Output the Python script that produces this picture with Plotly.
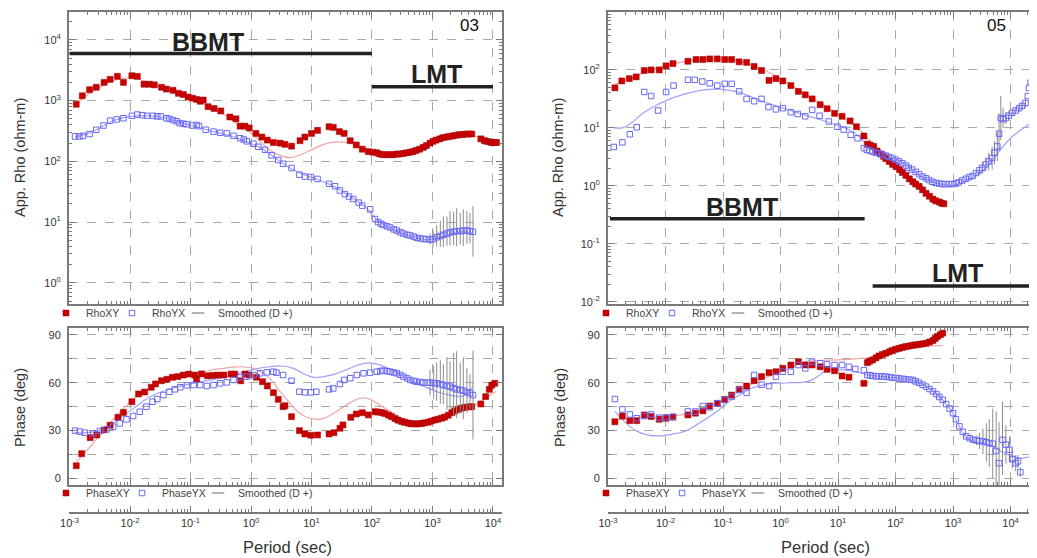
import numpy as np
import plotly.graph_objects as go

# ---------------- DATA ----------------
# pairs: (log10 period [s], log10 apparent resistivity [ohm-m])  or  (log10 period, phase [deg])

# ---- site 03 ----
s03_rho_xy = [(-2.89, 2.94), (-2.79, 3.08), (-2.67, 3.18), (-2.56, 3.22), (-2.43, 3.30), (-2.33, 3.35),
              (-2.21, 3.40), (-2.11, 3.30), (-1.97, 3.41), (-1.88, 3.40), (-1.77, 3.27), (-1.68, 3.27),
              (-1.60, 3.26), (-1.48, 3.22), (-1.40, 3.19), (-1.29, 3.17), (-1.20, 3.12), (-1.12, 3.10),
              (-1.04, 3.06), (-0.97, 3.04), (-0.90, 3.02), (-0.84, 2.99), (-0.79, 3.01), (-0.71, 2.90),
              (-0.61, 2.87), (-0.50, 2.83), (-0.35, 2.73), (-0.25, 2.70), (-0.18, 2.58), (-0.10, 2.58),
              (-0.03, 2.55), (0.08, 2.46), (0.18, 2.40), (0.27, 2.35), (0.37, 2.31), (0.48, 2.30),
              (0.56, 2.28), (0.67, 2.25), (0.81, 2.34), (0.89, 2.40), (1.00, 2.46), (1.10, 2.51),
              (1.29, 2.57), (1.36, 2.56), (1.46, 2.49), (1.54, 2.46), (1.64, 2.34), (1.74, 2.27),
              (1.84, 2.20), (1.94, 2.16), (2.02, 2.15), (2.08, 2.14), (2.13, 2.12), (2.18, 2.11),
              (2.24, 2.11), (2.30, 2.11), (2.35, 2.11), (2.41, 2.12), (2.46, 2.12), (2.52, 2.13),
              (2.57, 2.14), (2.63, 2.15), (2.68, 2.16), (2.73, 2.18), (2.79, 2.20), (2.85, 2.23),
              (2.90, 2.26), (2.96, 2.30), (3.01, 2.33), (3.06, 2.35), (3.12, 2.37), (3.17, 2.39),
              (3.23, 2.40), (3.28, 2.41), (3.34, 2.42), (3.39, 2.43), (3.45, 2.44), (3.50, 2.44),
              (3.56, 2.45), (3.61, 2.45), (3.65, 2.45), (3.80, 2.37), (3.86, 2.34), (3.90, 2.33),
              (3.95, 2.32), (3.98, 2.31), (4.02, 2.31), (4.06, 2.31)]
s03_rho_xy_smooth = [(-2.89, 2.95), (-2.7, 3.10), (-2.5, 3.22), (-2.3, 3.32), (-2.1, 3.37), (-1.9, 3.36),
                     (-1.7, 3.30), (-1.5, 3.22), (-1.3, 3.14), (-1.1, 3.07), (-0.9, 3.00), (-0.7, 2.91),
                     (-0.5, 2.80), (-0.3, 2.67), (-0.1, 2.54), (0.1, 2.38), (0.3, 2.19), (0.5, 2.09),
                     (0.65, 2.06), (0.8, 2.10), (1.0, 2.19), (1.2, 2.28), (1.4, 2.32), (1.6, 2.31),
                     (1.8, 2.25), (2.0, 2.18), (2.2, 2.13), (2.4, 2.13), (2.6, 2.18), (2.8, 2.26),
                     (3.0, 2.34), (3.2, 2.40), (3.4, 2.43), (3.6, 2.44), (3.8, 2.39), (4.0, 2.33), (4.06, 2.32)]
s03_rho_yx = [(-2.91, 2.41), (-2.84, 2.41), (-2.78, 2.42), (-2.67, 2.45), (-2.56, 2.52), (-2.44, 2.59),
              (-2.33, 2.67), (-2.22, 2.69), (-2.11, 2.71), (-1.97, 2.75), (-1.88, 2.77), (-1.80, 2.76),
              (-1.72, 2.75), (-1.62, 2.75), (-1.55, 2.74), (-1.49, 2.74), (-1.40, 2.71), (-1.35, 2.70),
              (-1.29, 2.68), (-1.23, 2.66), (-1.18, 2.63), (-1.12, 2.62), (-1.07, 2.61), (-0.97, 2.59),
              (-0.90, 2.60), (-0.86, 2.58), (-0.75, 2.52), (-0.62, 2.49), (-0.51, 2.47), (-0.40, 2.46),
              (-0.29, 2.42), (-0.18, 2.38), (-0.12, 2.36), (-0.07, 2.33), (0.04, 2.29), (0.12, 2.24),
              (0.23, 2.19), (0.34, 2.10), (0.45, 2.02), (0.53, 1.96), (0.67, 1.89), (0.80, 1.78),
              (0.89, 1.75), (0.99, 1.74), (1.10, 1.71), (1.29, 1.63), (1.39, 1.59), (1.47, 1.52),
              (1.55, 1.46), (1.62, 1.42), (1.69, 1.38), (1.78, 1.32), (1.84, 1.27), (1.97, 1.21),
              (2.05, 1.05), (2.10, 1.00), (2.15, 0.97), (2.19, 0.95), (2.25, 0.93), (2.30, 0.91),
              (2.36, 0.88), (2.41, 0.86), (2.47, 0.83), (2.52, 0.81), (2.58, 0.79), (2.63, 0.78),
              (2.69, 0.76), (2.74, 0.74), (2.80, 0.73), (2.85, 0.72), (2.90, 0.72), (2.96, 0.71),
              (3.01, 0.72), (3.07, 0.75), (3.13, 0.77), (3.18, 0.79), (3.24, 0.81), (3.29, 0.83),
              (3.35, 0.84), (3.40, 0.85), (3.46, 0.85), (3.51, 0.86), (3.57, 0.86), (3.62, 0.85),
              (3.67, 0.84)]
s03_rho_yx_err = [(2.96, 0.10, 0.08), (3.01, 0.15, 0.12), (3.07, 0.20, 0.15), (3.13, 0.25, 0.18),
                  (3.18, 0.30, 0.20), (3.24, 0.28, 0.20), (3.29, 0.35, 0.22), (3.35, 0.33, 0.22),
                  (3.40, 0.38, 0.25), (3.46, 0.30, 0.22), (3.51, 0.35, 0.25), (3.57, 0.32, 0.22),
                  (3.62, 0.30, 0.20), (3.67, 0.42, 0.41)]
s03_rho_yx_smooth = [(-2.91, 2.40), (-2.7, 2.46), (-2.5, 2.55), (-2.3, 2.66), (-2.1, 2.72), (-1.9, 2.75),
                     (-1.7, 2.75), (-1.5, 2.73), (-1.3, 2.68), (-1.1, 2.62), (-0.9, 2.57), (-0.7, 2.51),
                     (-0.5, 2.46), (-0.3, 2.41), (-0.1, 2.33), (0.1, 2.25), (0.3, 2.13), (0.5, 1.98),
                     (0.7, 1.86), (0.9, 1.77), (1.1, 1.70), (1.3, 1.62), (1.5, 1.51), (1.7, 1.38),
                     (1.9, 1.24), (2.1, 1.02), (2.3, 0.90), (2.5, 0.81), (2.7, 0.75), (2.9, 0.71),
                     (3.1, 0.74), (3.3, 0.80), (3.5, 0.84), (3.67, 0.82)]

s03_ph_xy = [(-2.89, 7.7), (-2.80, 15.3), (-2.66, 25.4), (-2.55, 27.1), (-2.43, 30.2), (-2.33, 33.2),
             (-2.20, 38.2), (-2.11, 41.3), (-1.97, 48.0), (-1.86, 52.9), (-1.76, 54.1), (-1.65, 57.1),
             (-1.58, 59.2), (-1.48, 61.2), (-1.39, 62.1), (-1.30, 63.4), (-1.21, 63.8), (-1.12, 64.8),
             (-1.03, 65.4), (-0.93, 64.8), (-0.90, 62.3), (-0.82, 65.5), (-0.72, 64.3), (-0.64, 64.5),
             (-0.55, 64.8), (-0.45, 64.8), (-0.33, 65.4), (-0.27, 65.4), (-0.17, 61.2), (-0.10, 65.4),
             (-0.03, 64.8), (0.09, 63.4), (0.19, 60.6), (0.27, 57.9), (0.37, 53.7), (0.45, 49.5),
             (0.53, 44.9), (0.56, 45.5), (0.67, 38.6), (0.80, 29.8), (0.89, 27.7), (0.99, 26.9),
             (1.10, 27.1), (1.29, 27.7), (1.37, 28.5), (1.47, 31.3), (1.52, 33.4), (1.65, 38.2),
             (1.74, 40.3), (1.84, 41.1), (1.94, 39.7), (2.05, 41.7), (2.10, 41.5), (2.16, 41.2),
             (2.21, 40.6), (2.27, 39.6), (2.32, 38.6), (2.38, 37.4), (2.43, 36.4), (2.49, 35.6),
             (2.54, 35.0), (2.60, 34.5), (2.65, 34.1), (2.71, 34.0), (2.76, 34.1), (2.82, 34.3),
             (2.87, 34.7), (2.93, 35.1), (2.98, 35.8), (3.04, 36.5), (3.09, 37.0), (3.15, 37.6),
             (3.20, 38.3), (3.26, 39.5), (3.32, 41.1), (3.37, 42.3), (3.43, 43.3), (3.48, 44.0),
             (3.54, 44.5), (3.60, 44.8), (3.65, 44.9), (3.80, 46.6), (3.88, 51.2), (3.94, 55.8),
             (3.98, 58.4), (4.03, 59.6)]
s03_ph_xy_smooth = [(-2.89, 10), (-2.7, 18), (-2.5, 27), (-2.3, 36), (-2.1, 44), (-1.9, 51), (-1.7, 56),
                    (-1.5, 60), (-1.3, 62.5), (-1.1, 64.5), (-0.9, 66), (-0.7, 67.5), (-0.5, 68.8),
                    (-0.3, 69.8), (-0.15, 70), (0.0, 69.3), (0.15, 67), (0.3, 63), (0.45, 56), (0.6, 49),
                    (0.75, 42.5), (0.9, 38.5), (1.05, 37), (1.2, 37.5), (1.4, 41.5), (1.6, 46.5),
                    (1.8, 50.2), (1.95, 49.8), (2.1, 46.5), (2.3, 42), (2.5, 37.5), (2.7, 36), (2.9, 36.3),
                    (3.1, 37.5), (3.3, 39.5), (3.5, 42), (3.7, 46), (3.9, 51), (4.05, 54.5)]
s03_ph_yx = [(-2.91, 29.8), (-2.83, 29.2), (-2.75, 28.5), (-2.61, 28.1), (-2.50, 29.6), (-2.39, 30.6),
             (-2.28, 32.3), (-2.17, 34.4), (-2.06, 36.9), (-1.95, 39.0), (-1.84, 41.7), (-1.73, 44.9),
             (-1.63, 48.0), (-1.55, 49.7), (-1.45, 52.2), (-1.35, 54.3), (-1.26, 55.8), (-1.17, 57.1),
             (-1.06, 58.3), (-0.95, 58.5), (-0.84, 58.5), (-0.73, 57.9), (-0.62, 58.5), (-0.51, 59.6),
             (-0.40, 60.2), (-0.29, 61.7), (-0.18, 63.4), (-0.07, 63.8), (0.04, 64.8), (0.15, 65.9),
             (0.26, 66.5), (0.37, 66.9), (0.42, 66.3), (0.53, 64.8), (0.67, 61.2), (0.80, 54.3),
             (0.89, 53.9), (0.99, 53.9), (1.08, 54.3), (1.29, 55.8), (1.36, 56.4), (1.47, 59.2),
             (1.54, 61.7), (1.64, 62.8), (1.75, 64.8), (1.86, 65.9), (1.97, 66.3), (2.08, 66.9),
             (2.14, 67.3), (2.19, 67.6), (2.25, 67.2), (2.30, 66.9), (2.36, 66.4), (2.41, 65.9),
             (2.47, 64.9), (2.52, 63.8), (2.58, 62.7), (2.63, 61.7), (2.69, 61.1), (2.74, 60.6),
             (2.80, 60.3), (2.85, 60.0), (2.91, 60.0), (2.96, 60.0), (3.02, 59.8), (3.07, 59.6),
             (3.13, 59.0), (3.18, 58.5), (3.24, 58.0), (3.29, 57.5), (3.35, 56.6), (3.40, 55.8),
             (3.46, 55.4), (3.51, 55.0), (3.57, 54.1), (3.62, 53.3), (3.67, 52.2)]
s03_ph_yx_err = [(2.96, 8, 8), (3.02, 11, 10), (3.07, 13, 11), (3.13, 15, 12), (3.18, 13, 12),
                 (3.24, 18, 15), (3.29, 16, 14), (3.35, 22, 17), (3.40, 24, 18), (3.46, 17, 15),
                 (3.51, 21, 18), (3.57, 15, 13), (3.62, 12, 10), (3.67, 28, 28)]
s03_ph_yx_smooth = [(-2.91, 28.5), (-2.7, 28.5), (-2.5, 30), (-2.3, 34), (-2.1, 39.5), (-1.9, 45),
                    (-1.7, 50.5), (-1.5, 54), (-1.3, 56.5), (-1.1, 58.5), (-0.9, 60), (-0.7, 61.5),
                    (-0.5, 63), (-0.3, 65), (-0.1, 67), (0.1, 68.8), (0.3, 70), (0.5, 70.5), (0.7, 69),
                    (0.9, 65), (1.05, 63.3), (1.2, 63.8), (1.4, 65.5), (1.6, 68.5), (1.8, 71.5),
                    (1.95, 72.5), (2.1, 71.5), (2.3, 68.5), (2.5, 64.5), (2.7, 60.5), (2.9, 57),
                    (3.1, 54), (3.3, 52), (3.5, 51.5), (3.6, 54), (3.67, 57.5)]

# ---- site 05 ----
s05_rho_xy = [(-2.88, 1.69), (-2.76, 1.81), (-2.63, 1.85), (-2.51, 1.88), (-2.37, 1.99), (-2.25, 2.00),
              (-2.11, 2.00), (-1.99, 2.07), (-1.87, 2.11), (-1.61, 2.15), (-1.47, 2.18), (-1.35, 2.18),
              (-1.23, 2.19), (-1.10, 2.19), (-0.97, 2.18), (-0.85, 2.18), (-0.72, 2.14), (-0.59, 2.13),
              (-0.46, 2.06), (-0.33, 1.99), (-0.20, 1.82), (-0.08, 1.85), (0.04, 1.81), (0.18, 1.73),
              (0.31, 1.63), (0.43, 1.57), (0.55, 1.50), (0.69, 1.40), (0.81, 1.33), (0.94, 1.25),
              (1.07, 1.20), (1.21, 1.12), (1.32, 1.02), (1.45, 0.86), (1.51, 0.72), (1.56, 0.70),
              (1.62, 0.68), (1.68, 0.60), (1.74, 0.55), (1.79, 0.51), (1.83, 0.47), (1.89, 0.42),
              (1.95, 0.37), (2.01, 0.33), (2.07, 0.28), (2.12, 0.23), (2.18, 0.18), (2.24, 0.12),
              (2.30, 0.07), (2.35, 0.03), (2.41, -0.01), (2.47, -0.07), (2.53, -0.13), (2.59, -0.18),
              (2.65, -0.23), (2.70, -0.26), (2.76, -0.28), (2.80, -0.30), (2.84, -0.31)]
s05_rho_xy_smooth = [(-2.88, 1.75), (-2.6, 1.86), (-2.3, 1.98), (-2.0, 2.07), (-1.7, 2.14), (-1.4, 2.18),
                     (-1.1, 2.19), (-0.8, 2.17), (-0.5, 2.09), (-0.2, 1.96), (0.1, 1.79), (0.4, 1.60),
                     (0.7, 1.42), (1.0, 1.23), (1.3, 1.03), (1.5, 0.84), (1.7, 0.62), (2.0, 0.33),
                     (2.3, 0.07), (2.6, -0.18), (2.84, -0.31)]
s05_rho_yx = [(-2.90, 0.67), (-2.75, 0.75), (-2.62, 0.89), (-2.50, 1.01), (-2.37, 1.62), (-2.25, 1.55),
              (-2.13, 1.30), (-1.99, 1.62), (-1.86, 1.73), (-1.61, 1.83), (-1.49, 1.83), (-1.36, 1.80),
              (-1.23, 1.77), (-1.10, 1.73), (-0.97, 1.76), (-0.85, 1.76), (-0.72, 1.63), (-0.59, 1.50),
              (-0.46, 1.46), (-0.33, 1.50), (-0.21, 1.36), (-0.08, 1.32), (0.04, 1.34), (0.18, 1.27),
              (0.30, 1.24), (0.43, 1.20), (0.55, 1.31), (0.68, 1.21), (0.84, 1.11), (0.99, 1.02),
              (1.10, 0.97), (1.22, 0.88), (1.34, 0.82), (1.45, 0.65), (1.50, 0.62), (1.55, 0.61),
              (1.60, 0.59), (1.66, 0.57), (1.71, 0.56), (1.77, 0.54), (1.83, 0.52), (1.88, 0.50),
              (1.94, 0.48), (2.00, 0.45), (2.06, 0.42), (2.12, 0.39), (2.18, 0.35), (2.23, 0.31),
              (2.29, 0.28), (2.35, 0.24), (2.41, 0.20), (2.47, 0.16), (2.53, 0.13), (2.58, 0.10),
              (2.64, 0.07), (2.70, 0.05), (2.76, 0.04), (2.81, 0.03), (2.87, 0.03), (2.93, 0.03),
              (2.99, 0.03), (3.05, 0.04), (3.10, 0.06), (3.16, 0.09), (3.22, 0.12), (3.28, 0.15),
              (3.34, 0.17), (3.40, 0.22), (3.46, 0.27), (3.51, 0.31), (3.57, 0.37), (3.62, 0.42),
              (3.68, 0.48), (3.72, 0.57), (3.77, 0.68), (3.80, 0.90), (3.83, 1.17), (3.87, 1.15),
              (3.92, 1.17), (3.97, 1.21), (4.03, 1.26), (4.09, 1.30), (4.15, 1.34), (4.20, 1.38),
              (4.26, 1.43), (4.30, 1.55), (4.32, 1.69), (4.35, 1.78), (4.38, 1.86)]
s05_rho_yx_err = [(3.40, 0.05, 0.05), (3.46, 0.08, 0.08), (3.51, 0.10, 0.10), (3.57, 0.12, 0.12),
                  (3.62, 0.15, 0.15), (3.68, 0.20, 0.20), (3.72, 0.20, 0.20), (3.77, 0.25, 0.25),
                  (3.80, 0.35, 0.30), (3.83, 0.38, 0.38), (3.87, 0.20, 0.15), (3.92, 0.10, 0.10),
                  (3.97, 0.08, 0.08), (4.03, 0.06, 0.06), (4.09, 0.06, 0.06), (4.15, 0.06, 0.06),
                  (4.20, 0.07, 0.07), (4.26, 0.08, 0.08), (4.38, 0.37, 1.15)]
s05_rho_yx_smooth = [(-2.90, 1.00), (-2.75, 1.00), (-2.6, 1.08), (-2.4, 1.25), (-2.2, 1.37), (-1.9, 1.51),
                     (-1.6, 1.60), (-1.3, 1.66), (-1.1, 1.67), (-0.9, 1.65), (-0.7, 1.61), (-0.4, 1.49),
                     (-0.05, 1.37), (0.3, 1.26), (0.7, 1.14), (1.0, 1.04), (1.25, 0.94), (1.5, 0.72),
                     (1.7, 0.60), (2.0, 0.46), (2.2, 0.36), (2.41, 0.18), (2.7, 0.05), (2.99, 0.01),
                     (3.2, 0.08), (3.46, 0.21), (3.75, 0.53), (4.03, 0.85), (4.45, 1.14)]

s05_ph_xy = [(-2.88, 35.4), (-2.75, 39.0), (-2.62, 36.1), (-2.50, 36.1), (-2.37, 39.7), (-2.25, 38.7),
             (-2.11, 37.0), (-1.99, 37.6), (-1.87, 38.3), (-1.61, 39.7), (-1.48, 40.8), (-1.35, 42.3),
             (-1.23, 45.3), (-1.10, 47.0), (-0.97, 49.5), (-0.85, 52.2), (-0.72, 55.8), (-0.59, 57.9),
             (-0.46, 61.2), (-0.33, 63.8), (-0.20, 66.3), (-0.08, 66.9), (0.04, 69.0), (0.18, 71.1),
             (0.31, 73.2), (0.43, 71.1), (0.55, 71.1), (0.69, 70.0), (0.81, 68.4), (0.94, 67.5),
             (1.07, 64.2), (1.19, 63.4), (1.45, 59.6), (1.51, 72.6), (1.55, 73.5), (1.60, 74.3),
             (1.66, 75.6), (1.71, 76.8), (1.77, 77.7), (1.83, 78.5), (1.89, 79.4), (1.94, 80.2),
             (2.00, 81.0), (2.06, 81.6), (2.12, 82.2), (2.18, 82.7), (2.24, 83.1), (2.30, 83.5),
             (2.35, 83.8), (2.41, 84.1), (2.47, 84.4), (2.53, 84.8), (2.59, 85.6), (2.65, 86.5),
             (2.69, 87.8), (2.73, 89.1), (2.78, 90.2), (2.82, 91.2)]
s05_ph_xy_smooth = [(-2.88, 36.5), (-2.5, 37.6), (-2.0, 38.5), (-1.6, 40.5), (-1.3, 43), (-1.0, 48.5),
                    (-0.7, 55), (-0.4, 61), (-0.1, 65.5), (0.2, 70), (0.4, 73), (0.7, 74), (1.0, 74.3),
                    (1.3, 75), (1.6, 76), (1.9, 78.5), (2.2, 81), (2.5, 83), (2.82, 83.3)]
s05_ph_yx = [(-2.88, 49.7), (-2.75, 43.2), (-2.62, 40.0), (-2.50, 37.6), (-2.37, 39.0), (-2.25, 40.0),
             (-2.11, 38.0), (-1.99, 38.2), (-1.87, 38.6), (-1.61, 41.9), (-1.48, 41.9), (-1.35, 45.3),
             (-1.23, 44.5), (-1.10, 47.0), (-0.97, 49.2), (-0.85, 51.2), (-0.72, 55.4), (-0.59, 53.7),
             (-0.46, 64.8), (-0.33, 58.7), (-0.20, 57.9), (-0.08, 63.8), (0.04, 66.9), (0.18, 66.9),
             (0.31, 71.1), (0.43, 69.0), (0.55, 73.2), (0.69, 72.2), (0.81, 71.5), (0.94, 71.1),
             (1.07, 71.1), (1.19, 70.0), (1.30, 68.6), (1.45, 67.9), (1.51, 64.8), (1.56, 64.6),
             (1.60, 64.2), (1.66, 64.1), (1.71, 64.0), (1.77, 63.9), (1.83, 63.8), (1.89, 63.5),
             (1.94, 63.2), (2.00, 63.0), (2.06, 62.7), (2.12, 62.4), (2.18, 62.2), (2.24, 61.9),
             (2.30, 61.7), (2.35, 60.8), (2.41, 59.9), (2.47, 58.7), (2.53, 57.5), (2.59, 56.0),
             (2.65, 54.5), (2.71, 52.8), (2.76, 51.0), (2.82, 49.2), (2.88, 46.5), (2.94, 43.7),
             (3.00, 40.8), (3.05, 37.0), (3.11, 32.5), (3.17, 29.0), (3.23, 26.2), (3.29, 25.0),
             (3.35, 24.1), (3.41, 23.6), (3.46, 23.3), (3.52, 23.1), (3.58, 22.5), (3.63, 22.0),
             (3.69, 21.6), (3.75, 17.0), (3.80, 9.3), (3.86, 24.0), (3.92, 21.0), (3.98, 17.8),
             (4.03, 12.0), (4.09, 9.3), (4.13, 10.5), (4.17, 3.7)]
s05_ph_yx_err = [(3.41, 3, 3), (3.46, 5, 5), (3.52, 8, 8), (3.58, 12, 12), (3.63, 15, 15), (3.69, 22, 22),
                 (3.75, 25, 22), (3.80, 26, 14), (3.86, 24, 22), (3.92, 12, 12), (3.98, 8, 8),
                 (4.03, 6, 6), (4.09, 5, 5), (4.13, 4, 4), (4.17, 3, 3)]
s05_ph_yx_smooth = [(-2.88, 42), (-2.7, 35), (-2.5, 29.5), (-2.3, 27), (-2.1, 26.5), (-1.9, 27.5),
                    (-1.66, 29.4), (-1.5, 32.5), (-1.32, 36.7), (-1.1, 42), (-0.97, 46.1), (-0.7, 52.5),
                    (-0.5, 56.6), (-0.2, 59.2), (0.08, 59.8), (0.48, 60.8), (0.65, 64), (0.77, 67.1),
                    (1.0, 68.2), (1.3, 67), (1.52, 64.8), (1.8, 63.8), (2.1, 62.5), (2.3, 61.5),
                    (2.5, 58.5), (2.7, 53.5), (2.9, 45.5), (3.0, 40.8), (3.1, 33), (3.23, 25.5),
                    (3.4, 22.5), (3.55, 21.5), (3.69, 19.9), (3.85, 16.5), (4.03, 13.6), (4.2, 12.5),
                    (4.45, 14.6)]

# band labels: (name, period start, period end, rho level)
s03_bands = [("BBMT", 1e-3, 1e2, 6000.0), ("LMT", 1e2, 1e4, 1700.0)]
s05_bands = [("BBMT", 1.08e-3, 29.0, 0.27), ("LMT", 40.0, 2.4e4, 0.0187)]
# band label text anchor: (name, log10 period, log10 rho)
s03_band_text = [("BBMT", -0.71, 3.97), ("LMT", 3.07, 3.44)]
s05_band_text = [("BBMT", -0.67, -0.36), ("LMT", 3.07, -1.50)]
site_labels = [("03", 3.62, 4.23), ("05", 3.76, 2.76)]

x_exps = list(range(-3, 5))
x_ticktext = ["10<sup>%d</sup>" % e for e in x_exps]
y03_exps = list(range(0, 5))
y05_exps = list(range(-2, 4))
phase_ticks = [0, 30, 60, 90]
phase_minor = [15, 45, 75]

# ---------------- STYLE ----------------
RED = "#cc0000"
RED_EDGE = "#990000"
BLUE = "#6868f4"
RED_SM = "#f4a3a3"
BLUE_SM = "#a0a0ff"
GRID = "#a8a8a8"
FRAME = "#7a7a7a"
FONT = "Liberation Sans, Arial, sans-serif"

# the page body adds an 8 px offset; layout positions below are screenshot pixels
OFF = 8
W, H = 1037 - OFF, 558 - OFF


def px_x(p):
    return (p - OFF) / W


def px_y(p):
    return 1 - (p - OFF) / H


dom_x_L = [px_x(69), px_x(502)]
dom_x_R = [px_x(608), 1.0]
dom_y_rho = [px_y(304), px_y(12)]
dom_y_ph = [px_y(485), px_y(328)]
dom_y_bot = [px_y(512), px_y(511)]

fig = go.Figure()


def unzip(pairs):
    t = np.array([p[0] for p in pairs], dtype=float)
    v = np.array([p[1] for p in pairs], dtype=float)
    return t, v


def err_arrays(t, v, errs, logscale):
    up = np.zeros_like(v)
    dn = np.zeros_like(v)
    m = {round(e[0], 2): (e[1], e[2]) for e in errs}
    for i, ti in enumerate(t):
        key = round(ti, 2)
        if key in m:
            eu, ed = m[key]
            if logscale:
                up[i] = 10 ** (v[i] + eu) - 10 ** v[i]
                dn[i] = 10 ** v[i] - 10 ** (v[i] - ed)
            else:
                up[i] = eu
                dn[i] = ed
    return up, dn


def add_points(pairs, xa, ya, name, legend, kind, logscale, errs=None):
    t, v = unzip(pairs)
    y = 10 ** v if logscale else v
    if kind == "xy":
        marker = dict(symbol="square", size=6, color=RED, line=dict(color=RED_EDGE, width=0.5))
    else:
        marker = dict(symbol="square-open", size=5.5, color=BLUE, line=dict(color=BLUE, width=1))
    tr = dict(x=10 ** t, y=y, mode="markers", marker=marker, name=name, legend=legend,
              xaxis=xa, yaxis=ya, hoverinfo="skip")
    if errs:
        up, dn = err_arrays(t, v, errs, logscale)
        tr["error_y"] = dict(type="data", symmetric=False, array=up, arrayminus=dn,
                             color="#8c8c8c", thickness=1, width=0)
    fig.add_trace(go.Scatter(**tr))


def add_smooth(pairs, xa, ya, color, logscale):
    t, v = unzip(pairs)
    y = 10 ** v if logscale else v
    fig.add_trace(go.Scatter(x=10 ** t, y=y, mode="lines", line=dict(color=color, width=1.2, shape="spline"),
                             xaxis=xa, yaxis=ya, showlegend=False, hoverinfo="skip"))


def add_legend_line(xa, ya, legend):
    fig.add_trace(go.Scatter(x=[None], y=[None], mode="markers",
                             marker=dict(symbol="line-ew", size=9, color="#9a9a9a",
                                         line=dict(color="#9a9a9a", width=1.5)),
                             name="Smoothed (D +)", legend=legend, xaxis=xa, yaxis=ya, hoverinfo="skip"))
    # invisible spacer so the last legend entry is not clipped
    fig.add_trace(go.Scatter(x=[None], y=[None], mode="markers", marker=dict(size=1, opacity=0),
                             name=" ", legend=legend, xaxis=xa, yaxis=ya, hoverinfo="skip"))


# site 03 resistivity
add_smooth(s03_rho_xy_smooth, "x", "y", RED_SM, True)
add_smooth(s03_rho_yx_smooth, "x", "y", BLUE_SM, True)
add_points(s03_rho_xy, "x", "y", "RhoXY", "legend", "xy", True)
add_points(s03_rho_yx, "x", "y", "RhoYX", "legend", "yx", True, s03_rho_yx_err)
add_legend_line("x", "y", "legend")
# site 03 phase
add_smooth(s03_ph_xy_smooth, "x2", "y2", RED_SM, False)
add_smooth(s03_ph_yx_smooth, "x2", "y2", BLUE_SM, False)
add_points(s03_ph_xy, "x2", "y2", "PhaseXY", "legend2", "xy", False)
add_points(s03_ph_yx, "x2", "y2", "PhaseYX", "legend2", "yx", False, s03_ph_yx_err)
add_legend_line("x2", "y2", "legend2")
# site 05 resistivity
add_smooth(s05_rho_xy_smooth, "x3", "y3", RED_SM, True)
add_smooth(s05_rho_yx_smooth, "x3", "y3", BLUE_SM, True)
add_points(s05_rho_xy, "x3", "y3", "RhoXY", "legend3", "xy", True)
add_points(s05_rho_yx, "x3", "y3", "RhoYX", "legend3", "yx", True, s05_rho_yx_err)
add_legend_line("x3", "y3", "legend3")
# site 05 phase
add_smooth(s05_ph_xy_smooth, "x4", "y4", RED_SM, False)
add_smooth(s05_ph_yx_smooth, "x4", "y4", BLUE_SM, False)
add_points(s05_ph_xy, "x4", "y4", "PhaseXY", "legend4", "xy", False)
add_points(s05_ph_yx, "x4", "y4", "PhaseYX", "legend4", "yx", False, s05_ph_yx_err)
add_legend_line("x4", "y4", "legend4")
# bottom period axes (empty helper subplots)
for xa, ya in (("x5", "y5"), ("x6", "y6")):
    fig.add_trace(go.Scatter(x=[None], y=[None], xaxis=xa, yaxis=ya, showlegend=False, hoverinfo="skip"))

x_tickvals = [10.0 ** e for e in x_exps]
x_minor_vals = [m * 10.0 ** e for e in range(-4, 5) for m in range(2, 10)]
TICKFONT = dict(family=FONT, size=11, color="#333")


def x_axis(domain, rng, anchor, labels=False, grid=True):
    return dict(type="log", domain=domain, range=rng, anchor=anchor, automargin=False,
                tickmode="array", tickvals=x_tickvals, ticktext=x_ticktext,
                showticklabels=labels, showgrid=grid, gridcolor=GRID, griddash="dash", gridwidth=1,
                showline=True, linecolor=FRAME, linewidth=2, mirror=("allticks" if grid else False),
                ticks="inside", ticklen=6, tickcolor=FRAME, tickwidth=1,
                minor=dict(tickmode="array", tickvals=x_minor_vals, ticks="inside", ticklen=3,
                           tickcolor=FRAME, showgrid=False),
                tickfont=TICKFONT, zeroline=False)


def rho_y_axis(domain, exps, rng, anchor):
    return dict(type="log", domain=domain, range=rng, anchor=anchor, automargin=False,
                tickmode="array", tickvals=[10.0 ** e for e in exps],
                ticktext=["10<sup>%d</sup>" % e for e in exps], ticklabelstandoff=4,
                showgrid=True, gridcolor=GRID, griddash="dash", gridwidth=1,
                showline=True, linecolor=FRAME, linewidth=2, mirror="allticks",
                ticks="inside", ticklen=6, tickcolor=FRAME,
                minor=dict(tickmode="array", tickvals=[m * 10.0 ** e for e in range(-3, 6) for m in range(2, 10)],
                           ticks="inside", ticklen=3, tickcolor=FRAME, showgrid=False),
                tickfont=TICKFONT, zeroline=False)


def ph_y_axis(domain, anchor):
    return dict(domain=domain, range=[-4.4, 94.4], anchor=anchor, automargin=False,
                tickmode="array", tickvals=phase_ticks, ticklabelstandoff=4,
                showgrid=True, gridcolor=GRID, griddash="dash", gridwidth=1,
                showline=True, linecolor=FRAME, linewidth=2, mirror="allticks",
                ticks="inside", ticklen=6, tickcolor=FRAME,
                minor=dict(tickmode="array", tickvals=phase_minor, ticks="inside", ticklen=3, tickcolor=FRAME,
                           showgrid=True, gridcolor=GRID, griddash="dash", gridwidth=1),
                tickfont=TICKFONT, zeroline=False)


rngL = [-3.01, 4.15]
rngR = [-3.0, 4.46]

legend_common = dict(orientation="h", xanchor="left", yanchor="middle", bgcolor="rgba(0,0,0,0)",
                     font=dict(family=FONT, size=10.5, color="#444"), itemwidth=30,
                     entrywidthmode="pixels", tracegroupgap=0, itemclick=False)
RHO_ENTRY, PH_ENTRY = 21, 31

fig.update_layout(
    width=W, height=H, margin=dict(l=0, r=0, t=0, b=0, autoexpand=False),
    paper_bgcolor="white", plot_bgcolor="white",
    font=dict(family=FONT, color="#333"),
    xaxis=x_axis(dom_x_L, rngL, "y"),
    yaxis=rho_y_axis(dom_y_rho, y03_exps, [-0.35, 4.46], "x"),
    xaxis2=x_axis(dom_x_L, rngL, "y2"),
    yaxis2=ph_y_axis(dom_y_ph, "x2"),
    xaxis3=x_axis(dom_x_R, rngR, "y3"),
    yaxis3=rho_y_axis(dom_y_rho, y05_exps, [-2.04, 3.0], "x3"),
    xaxis4=x_axis(dom_x_R, rngR, "y4"),
    yaxis4=ph_y_axis(dom_y_ph, "x4"),
    xaxis5=x_axis(dom_x_L, rngL, "y5", labels=True, grid=False),
    yaxis5=dict(domain=dom_y_bot, anchor="x5", visible=False, range=[0, 1]),
    xaxis6=x_axis(dom_x_R, rngR, "y6", labels=True, grid=False),
    yaxis6=dict(domain=dom_y_bot, anchor="x6", visible=False, range=[0, 1]),
    legend=dict(legend_common, entrywidth=RHO_ENTRY, x=px_x(46), y=px_y(313)),
    legend2=dict(legend_common, entrywidth=PH_ENTRY, x=px_x(46), y=px_y(493)),
    legend3=dict(legend_common, entrywidth=RHO_ENTRY, x=px_x(586), y=px_y(313)),
    legend4=dict(legend_common, entrywidth=PH_ENTRY, x=px_x(586), y=px_y(493)),
    showlegend=True,
)

# band lines and labels
for (name, t0, t1, lvl) in s03_bands:
    fig.add_shape(type="line", xref="x", yref="y", x0=t0, x1=t1, y0=lvl, y1=lvl,
                  line=dict(color="#222", width=3.5))
for (name, t0, t1, lvl) in s05_bands:
    fig.add_shape(type="line", xref="x3", yref="y3", x0=t0, x1=t1, y0=lvl, y1=lvl,
                  line=dict(color="#222", width=3.5))
for (name, lt, lv) in s03_band_text:
    fig.add_annotation(x=lt, y=lv, xref="x", yref="y", text="<b>%s</b>" % name, showarrow=False,
                       xanchor="center", yanchor="middle",
                       font=dict(family=FONT, size=25, color="#222"))
for (name, lt, lv) in s05_band_text:
    fig.add_annotation(x=lt, y=lv, xref="x3", yref="y3", text="<b>%s</b>" % name, showarrow=False,
                       xanchor="center", yanchor="middle",
                       font=dict(family=FONT, size=25, color="#222"))
fig.add_annotation(x=site_labels[0][1], y=site_labels[0][2], xref="x", yref="y", text=site_labels[0][0],
                   showarrow=False, xanchor="center", yanchor="middle",
                   font=dict(family=FONT, size=17, color="#111"))
fig.add_annotation(x=site_labels[1][1], y=site_labels[1][2], xref="x3", yref="y3", text=site_labels[1][0],
                   showarrow=False, xanchor="center", yanchor="middle",
                   font=dict(family=FONT, size=17, color="#111"))

# axis titles
for (xp, yp, txt, ang, size) in [(20, 158, "App. Rho (ohm-m)", -90, 14.5),
                                 (20, 408, "Phase (deg)", -90, 14.5),
                                 (558, 158, "App. Rho (ohm-m)", -90, 14.5),
                                 (560, 408, "Phase (deg)", -90, 14.5),
                                 (287, 547, "Period (sec)", 0, 16.5),
                                 (825, 547, "Period (sec)", 0, 16.5)]:
    fig.add_annotation(x=px_x(xp), y=px_y(yp), xref="paper", yref="paper", text=txt, textangle=ang,
                       showarrow=False, xanchor="center", yanchor="middle",
                       font=dict(family=FONT, size=size, color="#333"))

fig.write_html("out.html")
